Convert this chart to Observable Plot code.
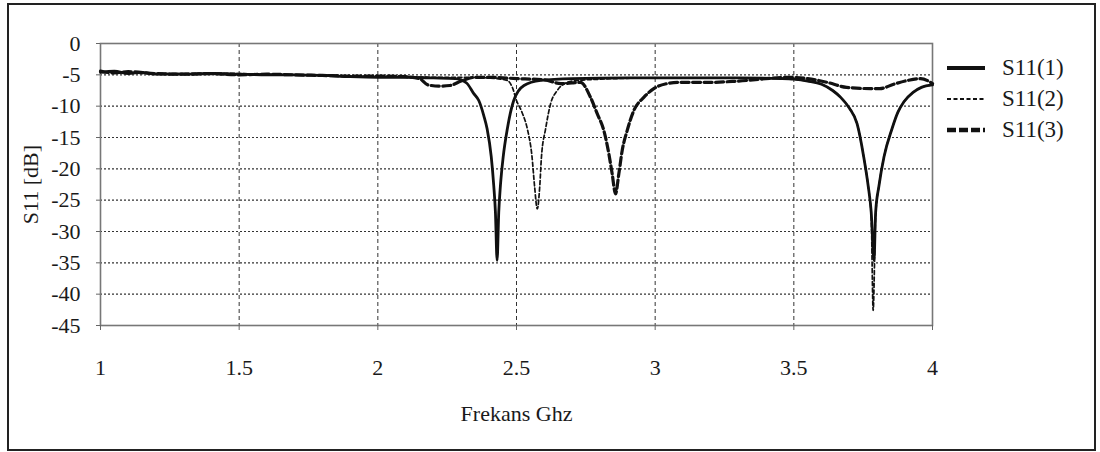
<!DOCTYPE html>
<html>
<head>
<meta charset="utf-8">
<script src="https://cdn.jsdelivr.net/npm/d3@7"></script>
<script src="https://cdn.jsdelivr.net/npm/@observablehq/plot@0.6"></script>
<style>
  body { margin: 0; background: #fff; }
  #wrap { position: relative; width: 1100px; height: 452px; overflow: hidden; font-family: "Liberation Serif", "Times New Roman", serif; }
  #chart { position: absolute; left: 0; top: 0; }
  #chart svg, #chart svg text, #chart svg g { font-family: "Liberation Serif", "Times New Roman", serif !important; }
  #border { position: absolute; left: 7px; top: 3px; width: 1085px; height: 444px; border: 2px solid #222; pointer-events: none; }
  #legend { position: absolute; left: 946px; top: 52px; font-size: 23px; color: #1a1a1a; }
  .row { display: flex; align-items: center; height: 31px; }
  .row svg { margin-right: 16px; }
</style>
</head>
<body>
<div id="wrap">
  <div id="chart"></div>
  <div id="legend"></div>
  <div id="border"></div>
</div>
<script>
// ---- data ----
const seriesNames = ["S11(1)", "S11(2)", "S11(3)"];

const s1Freq = [1.0,1.05,1.1,1.15,1.2,1.3,1.4,1.5,1.6,1.7,1.8,1.9,2.0,2.1,2.2,2.28,2.32,2.346,2.364,2.382,2.394,2.409,2.418,2.424,2.43,2.436,2.442,2.452,2.467,2.49,2.527,2.587,2.7,2.9,3.1,3.3,3.45,3.5,3.55,3.6,3.64,3.669,3.7,3.728,3.752,3.768,3.779,3.789,3.795,3.807,3.825,3.854,3.875,3.897,3.93,3.96,4.0];
const s1Db   = [-4.6,-4.4,-4.8,-4.6,-4.9,-4.9,-4.8,-4.9,-5.0,-5.0,-5.1,-5.3,-5.4,-5.4,-5.5,-5.6,-6.3,-8.0,-9.1,-11.5,-13.6,-18.1,-22.7,-26.9,-34.6,-26.9,-22.7,-18.1,-13.6,-9.1,-6.7,-5.9,-5.6,-5.5,-5.5,-5.5,-5.6,-5.7,-6.0,-6.5,-7.5,-8.6,-10.3,-12.8,-18.1,-22.7,-26.9,-34.6,-26.9,-22.7,-18.1,-13.6,-11.0,-9.3,-7.8,-7.0,-6.6];

const s2Freq = [1.0,1.1,1.2,1.3,1.4,1.5,1.6,1.7,1.8,1.9,2.0,2.1,2.2,2.3,2.4,2.467,2.485,2.5,2.52,2.539,2.556,2.565,2.575,2.584,2.59,2.605,2.623,2.647,2.683,2.72,2.8,3.0,3.2,3.4,3.5,3.55,3.6,3.64,3.669,3.7,3.728,3.752,3.768,3.779,3.786,3.795,3.807,3.825,3.854,3.875,3.897,3.93,3.96,4.0];
const s2Db   = [-4.5,-4.7,-4.8,-4.8,-4.7,-4.8,-4.9,-5.0,-5.0,-5.2,-5.3,-5.3,-5.4,-5.4,-5.5,-5.9,-7.0,-9.1,-11.0,-13.6,-18.1,-22.7,-26.4,-22.7,-18.1,-13.6,-9.6,-7.5,-6.2,-5.9,-5.7,-5.5,-5.5,-5.5,-5.7,-6.0,-6.5,-7.5,-8.6,-10.3,-12.8,-18.1,-22.7,-27.5,-42.6,-27.5,-22.7,-18.1,-13.6,-11.0,-9.3,-7.8,-7.0,-6.6];

const s3Freq = [1.0,1.05,1.1,1.2,1.3,1.4,1.5,1.6,1.7,1.8,1.9,2.0,2.1,2.15,2.18,2.22,2.26,2.3,2.35,2.4,2.5,2.6,2.66,2.7,2.731,2.767,2.791,2.815,2.833,2.845,2.857,2.869,2.881,2.899,2.923,2.959,2.995,3.043,3.08,3.2,3.3,3.48,3.55,3.62,3.69,3.777,3.81,3.86,3.91,3.957,4.0];
const s3Db   = [-4.4,-4.7,-4.5,-4.8,-4.9,-4.8,-5.0,-4.9,-5.0,-5.1,-5.2,-5.2,-5.3,-5.6,-6.6,-6.8,-6.7,-6.0,-5.4,-5.4,-5.6,-5.8,-6.4,-6.3,-6.2,-8.6,-11.2,-13.9,-17.6,-20.8,-24.0,-20.8,-17.1,-13.9,-10.7,-8.6,-7.2,-6.4,-6.2,-6.2,-6.0,-5.4,-5.6,-6.2,-7.0,-7.2,-7.2,-6.5,-5.9,-5.6,-6.4];

const xTicks = [1, 1.5, 2, 2.5, 3, 3.5, 4];
const yTicks = [0, -5, -10, -15, -20, -25, -30, -35, -40, -45];

// ---- build table ----
const toRows = (name, fs, ds) => fs.map((f, i) => ({series: name, f, db: ds[i]}));
const s1 = toRows(seriesNames[0], s1Freq, s1Db);
const s2 = toRows(seriesNames[1], s2Freq, s2Db);
const s3 = toRows(seriesNames[2], s3Freq, s3Db);

const styles = {
  "S11(1)": {stroke: "#111", strokeWidth: 2.8, dash: null, legendDash: null, legendWidth: 4},
  "S11(2)": {stroke: "#111", strokeWidth: 1.7, dash: "4,2.5", legendDash: "4,2.5", legendWidth: 2},
  "S11(3)": {stroke: "#111", strokeWidth: 3.2, dash: "8,3.5", legendDash: "9,3", legendWidth: 4.5}
};

const fmt = d => String(d);
const serif = "'Liberation Serif', 'Times New Roman', serif";

const chart = Plot.plot({
  width: 1100,
  height: 452,
  marginLeft: 100,
  marginRight: 168,
  marginTop: 43,
  marginBottom: 127,
  style: {fontFamily: serif, fontSize: "22px", color: "#1a1a1a", background: "transparent"},
  x: {domain: [1, 4]},
  y: {domain: [-45, 0]},
  marks: [
    Plot.gridX(xTicks, {stroke: "#333", strokeOpacity: 1, strokeWidth: 1, strokeDasharray: "4,3"}),
    Plot.gridY(yTicks, {stroke: "#333", strokeOpacity: 1, strokeWidth: 1.2, strokeDasharray: "2,2"}),
    Plot.frame({stroke: "#777", strokeWidth: 1.6}),
    Plot.axisX(xTicks, {tickSize: 5, tickPadding: 29, tickFormat: fmt, stroke: "#666", fontSize: 22, fontFamily: serif,
      label: "Frekans Ghz", labelAnchor: "center", labelArrow: "none", labelOffset: 95}),
    Plot.axisY(yTicks, {tickSize: 4, tickPadding: 16, tickFormat: fmt, stroke: "#666", fontSize: 22, fontFamily: serif,
      label: "S11 [dB]", labelAnchor: "center", labelArrow: "none", labelOffset: 78}),
    Plot.line(s3, {x: "f", y: "db", stroke: styles["S11(3)"].stroke, strokeWidth: styles["S11(3)"].strokeWidth, strokeDasharray: styles["S11(3)"].dash, curve: "monotone-x"}),
    Plot.line(s1, {x: "f", y: "db", stroke: styles["S11(1)"].stroke, strokeWidth: styles["S11(1)"].strokeWidth, curve: "monotone-x"}),
    Plot.line(s2, {x: "f", y: "db", stroke: styles["S11(2)"].stroke, strokeWidth: styles["S11(2)"].strokeWidth, strokeDasharray: styles["S11(2)"].dash, curve: "monotone-x"})
  ]
});
document.getElementById("chart").appendChild(chart);

// ---- legend (HTML, beside the plot) ----
const legend = document.getElementById("legend");
for (const name of seriesNames) {
  const st = styles[name];
  const row = document.createElement("div");
  row.className = "row";
  const dashAttr = st.legendDash ? ` stroke-dasharray="${st.legendDash}"` : "";
  row.innerHTML = `<svg width="40" height="12"><line x1="1" y1="6" x2="39" y2="6" stroke="${st.stroke}" stroke-width="${st.legendWidth}"${dashAttr}/></svg><span>${name}</span>`;
  legend.appendChild(row);
}
</script>
</body>
</html>
